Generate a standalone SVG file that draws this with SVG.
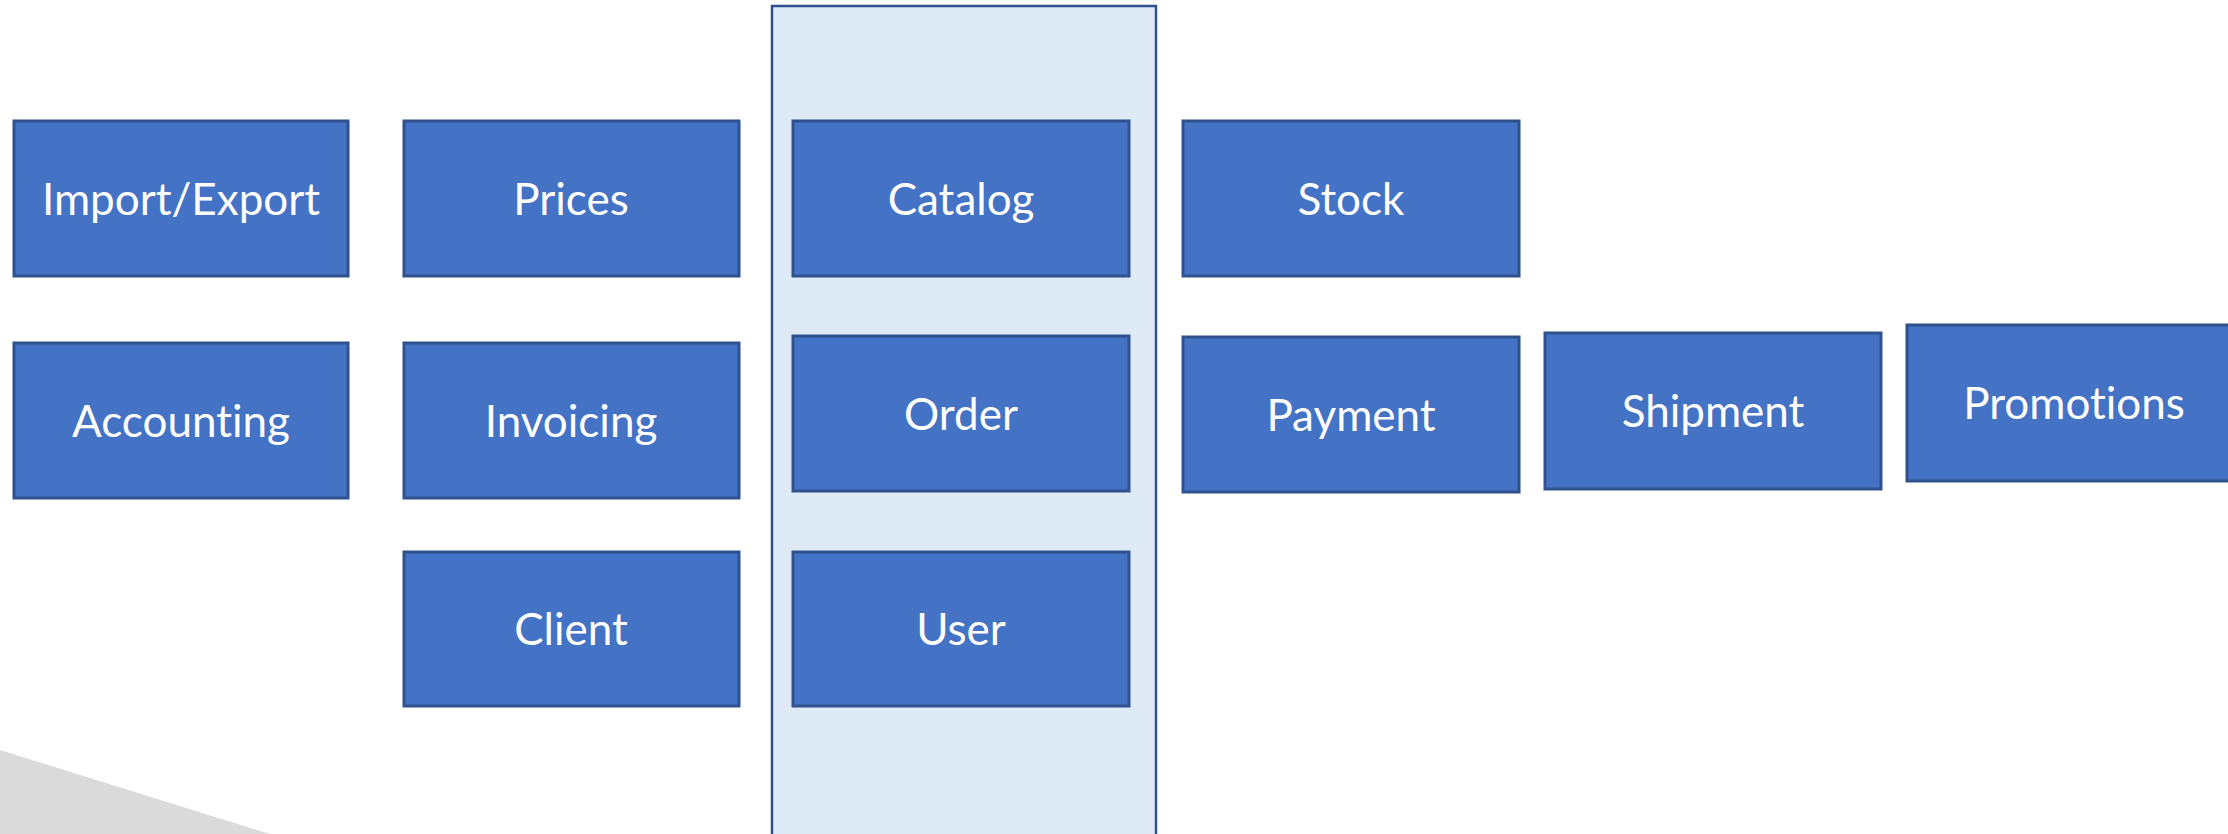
<svg xmlns="http://www.w3.org/2000/svg" width="2228" height="834" viewBox="0 0 2228 834">
<style>
.box{fill:#4472C4;stroke:#2F528F;stroke-width:3}
.lbl{fill:#FFFFFF;font-family:Lato,"Open Sans","Liberation Sans",sans-serif;font-size:44px;text-anchor:middle;font-variant-ligatures:none}
</style>
<rect x="0" y="0" width="2228" height="834" fill="#FFFFFF"/>
<polygon points="0,750 270,834 0,834" fill="#DADADA"/>
<g id="column"><rect x="772" y="6" width="384" height="840" fill="#DEEBF7" stroke="#2F528F" stroke-width="2.5"/></g>
<g id="connectors"></g>
<g id="import-export"><rect class="box" x="14" y="121" width="334" height="155"/><text class="lbl" x="181" y="215">Import/Export</text></g>
<g id="prices"><rect class="box" x="404" y="121" width="335" height="155"/><text class="lbl" x="571" y="215">Prices</text></g>
<g id="catalog"><rect class="box" x="793" y="121" width="336" height="155"/><text class="lbl" x="961" y="215">Catalog</text></g>
<g id="stock"><rect class="box" x="1183" y="121" width="336" height="155"/><text class="lbl" x="1351" y="215">Stock</text></g>
<g id="accounting"><rect class="box" x="14" y="343" width="334" height="155"/><text class="lbl" x="181" y="437">Accounting</text></g>
<g id="invoicing"><rect class="box" x="404" y="343" width="335" height="155"/><text class="lbl" x="571" y="437">Invoicing</text></g>
<g id="order"><rect class="box" x="793" y="336" width="336" height="155"/><text class="lbl" x="961" y="430">Order</text></g>
<g id="payment"><rect class="box" x="1183" y="337" width="336" height="155"/><text class="lbl" x="1351" y="431">Payment</text></g>
<g id="shipment"><rect class="box" x="1545" y="333" width="336" height="156"/><text class="lbl" x="1713" y="427">Shipment</text></g>
<g id="promotions"><rect class="box" x="1907" y="325" width="340" height="156"/><text class="lbl" x="2074" y="419">Promotions</text></g>
<g id="client"><rect class="box" x="404" y="552" width="335" height="154"/><text class="lbl" x="571" y="645">Client</text></g>
<g id="user"><rect class="box" x="793" y="552" width="336" height="154"/><text class="lbl" x="961" y="645">User</text></g>
</svg>
